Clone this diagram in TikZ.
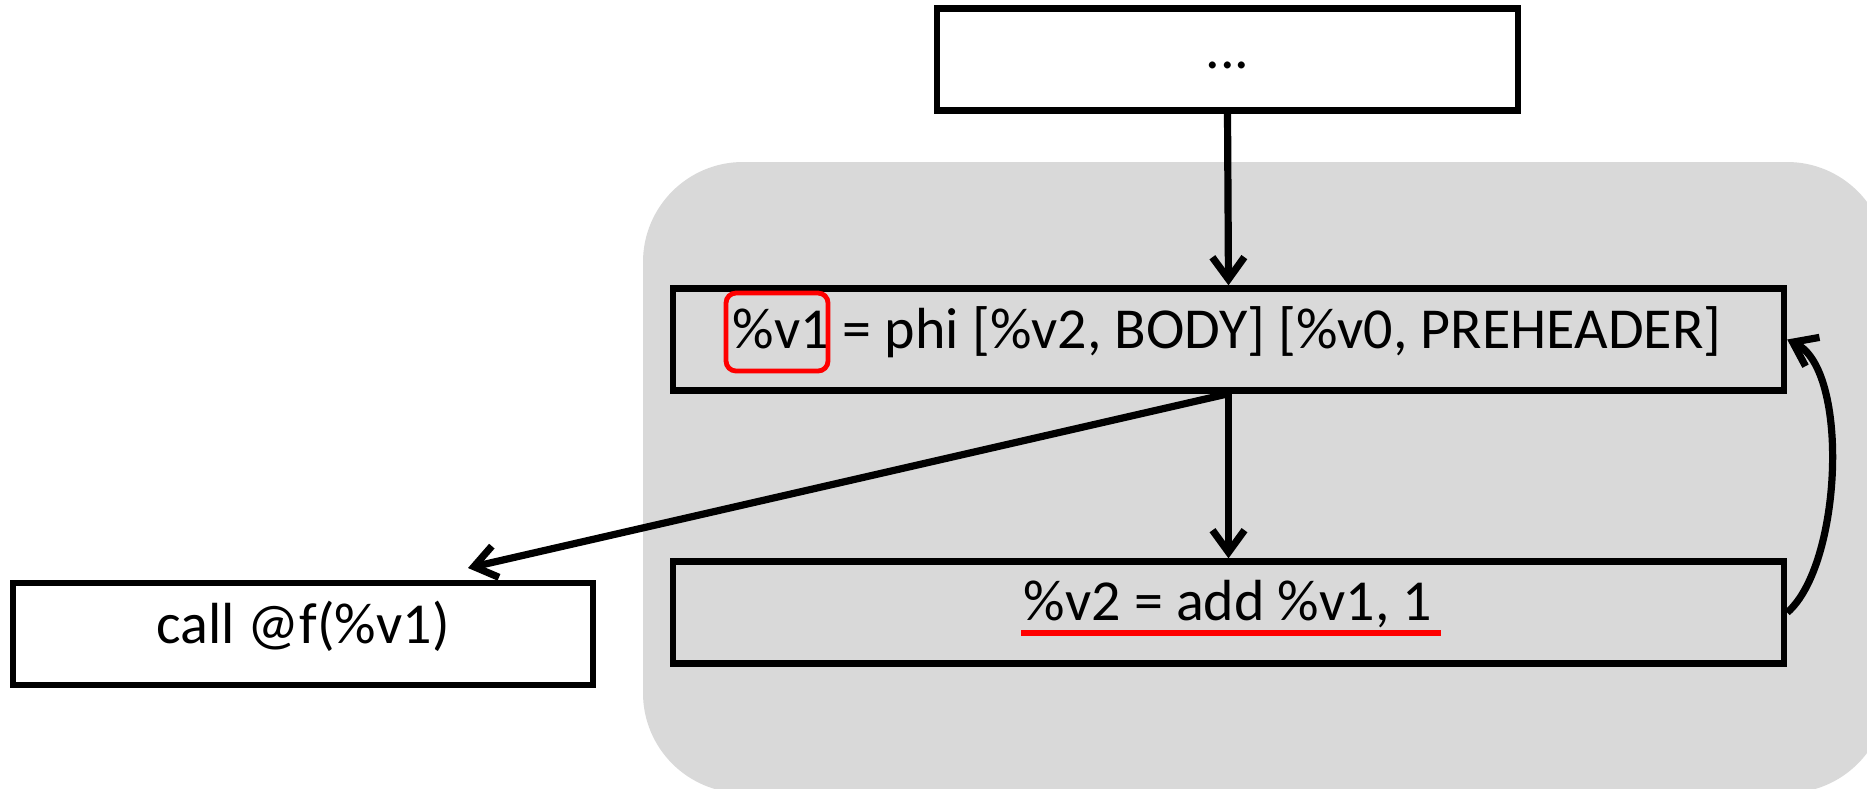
\documentclass[tikz,border=0pt]{standalone}
\usepackage{fontspec}
\setmainfont{Carlito}
\usetikzlibrary{arrows.meta}
\definecolor{bggray}{RGB}{217,217,217}
\definecolor{hred}{RGB}{255,0,0}
\begin{document}
\begin{tikzpicture}[x=0.5pt,y=-0.5pt,
  box/.style={draw=black, line width=3.2pt, inner sep=0pt, minimum height=51pt},
  txt/.style={anchor=base, inner sep=0pt, font=\fontsize{29pt}{32pt}\selectfont},
  arr/.style={line width=3.6pt, -{Straight Barb[length=11pt,width=16pt]}},
  hlbox/.style={draw=hred, line width=2.4pt, rounded corners=5pt, inner sep=0pt},
]
\clip (0,0) rectangle (1867,788);
\fill[white] (0,0) rectangle (1867,788);
\fill[bggray, rounded corners=50pt] (643,162) rectangle (1887,793);
% boxes
\node[box, fill=white, minimum width=290.5pt] (top) at (1227.5,59.5) {};
\node[box, minimum width=555.5pt] (phi) at (1228.5,339.5) {};
\node[box, minimum width=555.5pt] (add) at (1228.5,612.5) {};
\node[box, fill=white, minimum width=290pt] (call) at (303,634) {};
% texts
\node[txt] (toptext) at (1227.5,68) {...};
\node[txt] (phitext) at (1227,348) {\%v1 = phi [\%v2, BODY] [\%v0, PREHEADER]};
\node[txt] (addtext) at (1228,620) {\%v2 = add \%v1, 1};
\node[txt] (calltext) at (303,643) {call @f(\%v1)};
% highlights
\node[hlbox, minimum width=51pt, minimum height=39pt] (hl) at (777,332) {};
\coordinate (ulA) at (1021,633);
\coordinate (ulB) at (1441,633);
\draw[hred, line width=2.7pt] (ulA) -- (ulB);
% connectors
\coordinate (calltip) at (468,568);
\draw[arr] (top.south) -- (phi.north);
\draw[arr] (phi.south) -- (add.north);
\draw[arr] (phi.south) -- (calltip);
\draw[arr] (add.east) .. controls (1842,565) and (1850,370) .. (phi.east);
\end{tikzpicture}
\end{document}
